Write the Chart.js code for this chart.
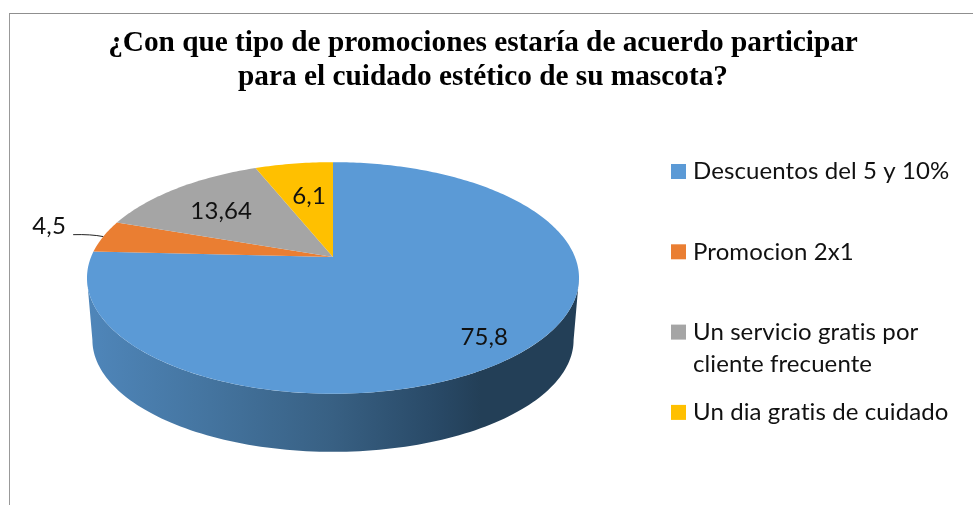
<!DOCTYPE html>
<html lang="es">
<head>
<meta charset="utf-8">
<title>Promociones</title>
<script src="https://cdn.jsdelivr.net/npm/chart.js@4"></script>
<style>
html,body{margin:0;padding:0;background:#fff;overflow:hidden}
#frame{position:absolute;left:9px;top:13px;right:0;bottom:0;border-left:1.5px solid #999;border-top:1.5px solid #8f8f8f}
#c{position:absolute;left:0;top:0}
</style>
</head>
<body>
<div id="frame"></div>
<canvas id="c" width="966" height="505"></canvas>
<script>
const titleLines = ['¿Con que tipo de promociones estaría de acuerdo participar', 'para el cuidado estético de su mascota?'];
const categories = ['Descuentos del 5 y 10%', 'Promocion 2x1', ['Un servicio gratis por', 'cliente frecuente'], 'Un dia gratis de cuidado'];
const values = [75.8, 4.5, 13.64, 6.1];
const valueLabels = ['75,8', '4,5', '13,64', '6,1'];
const colors = ['#5b9ad6', '#ea7e32', '#a5a5a5', '#ffc000'];

const TEXT_FONT = 'Lato, Carlito, "Open Sans", sans-serif';
const VIEW = {k: -0.181, sx: 2.16, sy: 1.0, depth: 62, wallX: 0.978, wallY: 0.966};
// per-slice label placement: radial fraction plus small nudge
const PLACE = [{f: .81, dx: 0, dy: 7}, {f: 1.25, dx: 1, dy: -5, leader: true}, {f: .672, dx: -3, dy: 2}, {f: .597, dx: 1, dy: -1}];
const LEGEND = {x: 671, box: 15, textGap: 7, y: 171.5, step: 80.3, lineH: 32, size: 24};

function projector(arc) {
  const R = arc.outerRadius, a = R * VIEW.sx, b = R * VIEW.sy, k = VIEW.k;
  return (theta, f = 1) => {
    const u = Math.cos(theta) * f, v = Math.sin(theta) * f, s = 1 + k * v;
    return {x: arc.x + a * u / s, y: arc.y + b * v / s};
  };
}

const pie3d = {
  id: 'pie3d',
  afterLayout(chart) {
    // the title spans the whole canvas, not only the padded pie area
    const t = chart.titleBlock;
    if (t) { t.left = 0; t.right = chart.width; t.width = chart.width; }
  },
  beforeDatasetDraw(chart) {
    const ctx = chart.ctx, arcs = chart.getDatasetMeta(0).data;
    const first = arcs[0], P = projector(first);
    const ext = Math.asin(-VIEW.k);
    const ecy = P(ext).y;
    const low = p => ({x: first.x + (p.x - first.x) * VIEW.wallX, y: ecy + (p.y - ecy) * VIEW.wallY + VIEW.depth});
    const R = first.outerRadius;
    const lx = first.x - R * VIEW.sx * 1.017, rx = first.x + R * VIEW.sx * 1.017;
    // side wall of each slice, only where it faces the viewer
    arcs.forEach(arc => {
      const s = Math.max(arc.startAngle, ext), e = Math.min(arc.endAngle, Math.PI - ext);
      if (e <= s) return;
      const g = ctx.createLinearGradient(lx, 0, rx, 0);
      g.addColorStop(0, '#4f86ba');
      g.addColorStop(0.25, '#44749f');
      g.addColorStop(0.5, '#386083');
      g.addColorStop(0.72, '#284865');
      g.addColorStop(0.8, '#233f57');
      g.addColorStop(1, '#233f57');
      ctx.beginPath();
      const n = 120;
      for (let i = 0; i <= n; i++) { const p = P(s + (e - s) * i / n); i ? ctx.lineTo(p.x, p.y) : ctx.moveTo(p.x, p.y); }
      for (let i = n; i >= 0; i--) { const p = low(P(s + (e - s) * i / n)); ctx.lineTo(p.x, p.y); }
      ctx.closePath();
      ctx.fillStyle = g;
      ctx.fill();
    });
    // top surface
    arcs.forEach((arc, idx) => {
      const n = Math.max(8, Math.ceil((arc.endAngle - arc.startAngle) * 60));
      ctx.beginPath();
      ctx.moveTo(arc.x, arc.y);
      for (let i = 0; i <= n; i++) { const p = P(arc.startAngle + (arc.endAngle - arc.startAngle) * i / n); ctx.lineTo(p.x, p.y); }
      ctx.closePath();
      ctx.fillStyle = colors[idx];
      ctx.fill();
    });
    return false;
  },
  afterDatasetsDraw(chart) {
    const ctx = chart.ctx, arcs = chart.getDatasetMeta(0).data;
    const P = projector(arcs[0]);
    ctx.save();
    ctx.fillStyle = '#111';
    ctx.textAlign = 'center';
    ctx.textBaseline = 'middle';
    ctx.font = '24px ' + TEXT_FONT;
    ctx.letterSpacing = '0.1px';
    arcs.forEach((arc, i) => {
      const mid = (arc.startAngle + arc.endAngle) / 2, pl = PLACE[i];
      const p = P(mid, pl.f), x = p.x + pl.dx, y = p.y + pl.dy;
      ctx.fillText(valueLabels[i], x, y);
      if (pl.leader) {
        const q = P(mid, 1);
        ctx.beginPath();
        ctx.moveTo(x + 24, y + 8);
        ctx.quadraticCurveTo(x + 42, y + 7.5, q.x, q.y);
        ctx.strokeStyle = '#222';
        ctx.lineWidth = 1;
        ctx.stroke();
      }
    });
    // legend
    ctx.textAlign = 'left';
    ctx.font = LEGEND.size + 'px ' + TEXT_FONT;
    categories.forEach((label, i) => {
      const y = LEGEND.y + LEGEND.step * i;
      ctx.fillStyle = colors[i];
      ctx.fillRect(LEGEND.x, y - LEGEND.box / 2, LEGEND.box, LEGEND.box);
      ctx.fillStyle = '#111';
      [].concat(label).forEach((line, j) => ctx.fillText(line, LEGEND.x + LEGEND.box + LEGEND.textGap, y + j * LEGEND.lineH));
    });
    ctx.restore();
  }
};

new Chart(document.getElementById('c'), {
  type: 'pie',
  data: {labels: categories, datasets: [{data: values, backgroundColor: colors, borderWidth: 0}]},
  plugins: [pie3d],
  options: {
    responsive: false,
    animation: false,
    layout: {padding: {left: 90, right: 390, top: 0, bottom: 136}},
    plugins: {
      legend: {display: false},
      tooltip: {enabled: false},
      title: {
        display: true,
        text: titleLines,
        color: '#000',
        font: {family: '"Liberation Serif", "Times New Roman", serif', weight: 'bold', size: 29.3, lineHeight: 1.16},
        padding: {top: 26, bottom: 51}
      }
    }
  }
});
</script>
</body>
</html>
